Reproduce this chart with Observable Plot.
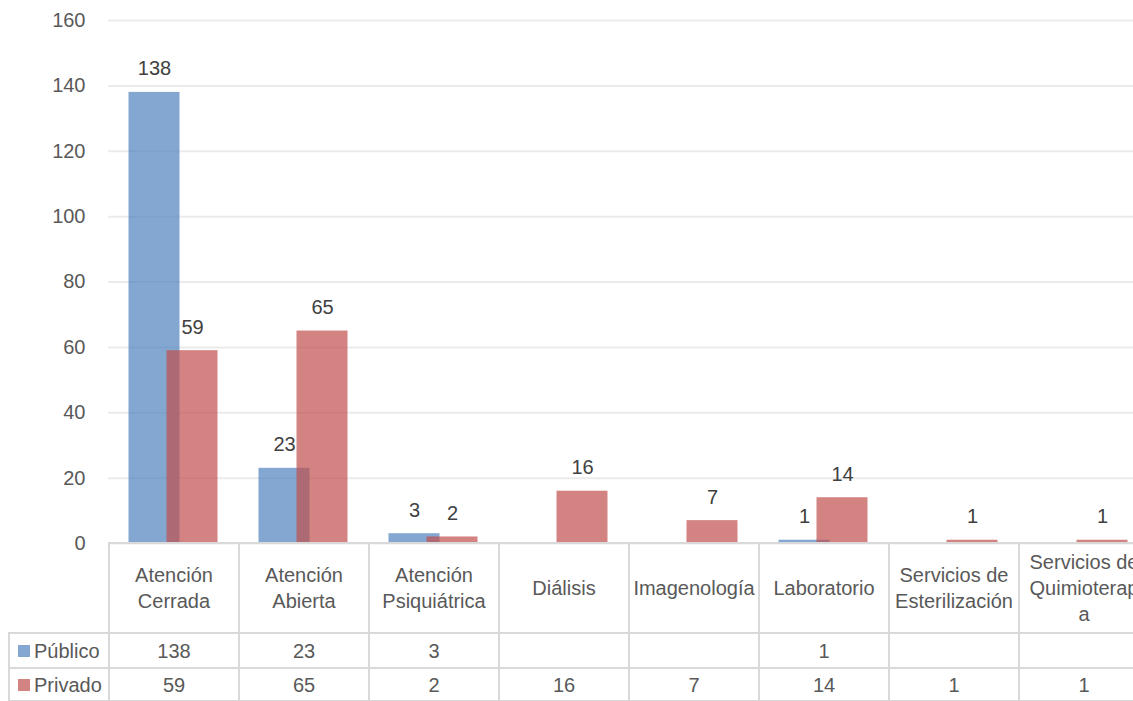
<!DOCTYPE html>
<html>
<head>
<meta charset="utf-8">
<script src="https://cdn.jsdelivr.net/npm/d3@7"></script>
<script src="https://cdn.jsdelivr.net/npm/@observablehq/plot@0.6"></script>
<style>
  html, body { margin: 0; padding: 0; background: #fff; overflow: hidden; }
  body { width: 1133px; height: 701px; position: relative;
         font-family: "Liberation Sans", Arial, sans-serif; }
  #chart { position: absolute; left: 0; top: 0; width: 1150px; }
  #chart svg { max-width: none !important; }
  #table { position: absolute; left: 8px; top: 542px; width: 1142px; border-collapse: collapse; table-layout: fixed;
           font-size: 20px; color: #595959; }
  #table td { border: 2px solid #d9d9d9; text-align: center; padding: 0; line-height: 26px; overflow: hidden; white-space: pre-line; }
  #table td.blank { border-left: none; border-top: none; }
  #table td.rowlab { text-align: left; padding-left: 8px; white-space: nowrap; }
  #table td.val { line-height: 24px; }
  .sw { display: inline-block; width: 12px; height: 12px; margin-right: 4px; vertical-align: 1px; }
</style>
</head>
<body>
<div id="chart"></div>
<table id="table"></table>
<script>
const categories = ["Atención Cerrada", "Atención Abierta", "Atención Psiquiátrica", "Diálisis", "Imagenología", "Laboratorio", "Servicios de Esterilización", "Servicios de Quimioterapia"];
const categoryLabels = ["Atención\nCerrada", "Atención\nAbierta", "Atención\nPsiquiátrica", "Diálisis", "Imagenología", "Laboratorio", "Servicios de\nEsterilización", "Servicios de\nQuimioterap\na"];
const publico = [138, 23, 3, null, null, 1, null, null];
const privado = [59, 65, 2, 16, 7, 14, 1, 1];
const seriesNames = ["Público", "Privado"];
const seriesColors = ["#4f81bd", "#c0504d"];
const yTicks = [0, 20, 40, 60, 80, 100, 120, 140, 160];

const pubData = categories.map((c, i) => ({cat: c, v: publico[i]})).filter(d => d.v != null);
const privData = categories.map((c, i) => ({cat: c, v: privado[i]})).filter(d => d.v != null);

const font = '"Liberation Sans", Arial, sans-serif';

const chart = Plot.plot({
  width: 1148,
  height: 560,
  marginLeft: 108,
  marginRight: 0,
  marginTop: 20,
  marginBottom: 17,
  style: {fontFamily: font, fontSize: "20px", color: "#595959", background: "transparent", overflow: "visible", maxWidth: "none"},
  x: {type: "band", domain: categories, padding: 0, axis: null},
  y: {domain: [0, 160], axis: null},
  marks: [
    Plot.gridY(yTicks, {stroke: "#ebebeb", strokeOpacity: 1, strokeWidth: 2}),
    Plot.axisY(yTicks, {tickSize: 0, tickPadding: 23, fontSize: 20, fill: "#595959", label: null}),
    Plot.barY(pubData, {x: "cat", y: "v", fill: seriesColors[0], fillOpacity: 0.7, insetLeft: 39.5, insetRight: 39.5, dx: -19}),
    Plot.barY(privData, {x: "cat", y: "v", fill: seriesColors[1], fillOpacity: 0.7, insetLeft: 39.5, insetRight: 39.5, dx: 19}),
    Plot.text(pubData, {x: "cat", y: "v", text: d => String(d.v), dx: -19, dy: -17, lineAnchor: "bottom", fill: "#404040", fontSize: 20}),
    Plot.text(privData, {x: "cat", y: "v", text: d => String(d.v), dx: 19, dy: -17, lineAnchor: "bottom", fill: "#404040", fontSize: 20})
  ]
});
chart.style.maxWidth = "none";
document.getElementById("chart").appendChild(chart);

// data table below the chart
const table = d3.select("#table");
const colgroup = table.append("colgroup");
colgroup.append("col").style("width", "100px");
categories.forEach(() => colgroup.append("col").style("width", "130px"));
const header = table.append("tr").style("height", "90px");
header.append("td").attr("class", "blank");
header.selectAll("td.cat").data(categoryLabels).join("td").attr("class", "cat").text(d => d);
[publico, privado].forEach((vals, k) => {
  const tr = table.append("tr").style("height", k === 0 ? "35px" : "33px");
  const lab = tr.append("td").attr("class", "rowlab");
  lab.append("span").attr("class", "sw").style("background", seriesColors[k]).style("opacity", 0.7);
  lab.append("span").text(seriesNames[k]);
  tr.selectAll("td.val").data(vals).join("td").attr("class", "val").text(d => d == null ? "" : d);
});
</script>
</body>
</html>
